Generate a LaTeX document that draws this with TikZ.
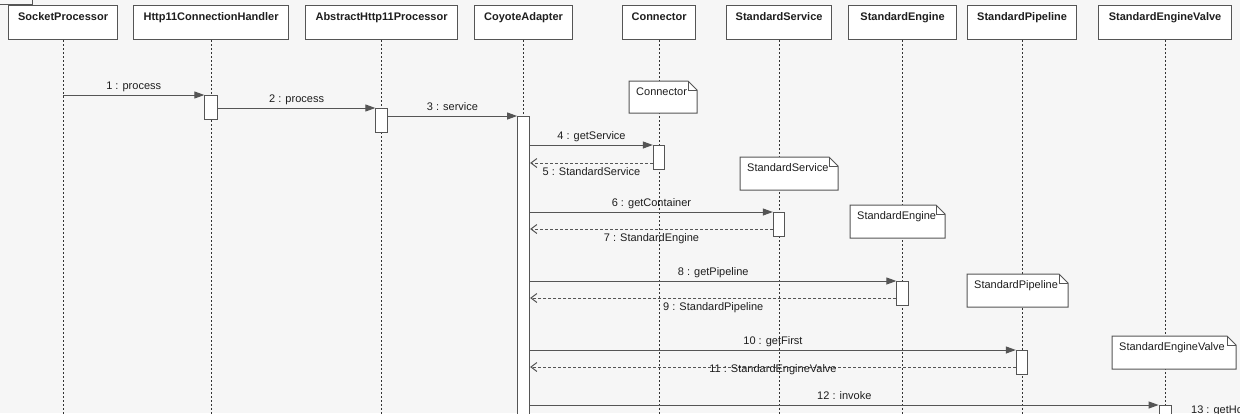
\documentclass[tikz,border=0pt]{standalone}
\usepackage{fontspec}
\setmainfont{Liberation Sans}
\usetikzlibrary{arrows.meta,calc}
\definecolor{bgc}{HTML}{F6F6F6}
\definecolor{ln}{HTML}{555555}
\definecolor{tx}{HTML}{1E1E1E}
\pgfdeclarelayer{back}
\pgfsetlayers{back,main}
\newcommand{\umlnote}[6]{%
  \begin{pgfonlayer}{back}
    \fill[white] (#1,#2) -- (#3-9,#2) -- (#3,#2+9) -- (#3,#4) -- (#1,#4) -- cycle;
  \end{pgfonlayer}
  \draw[noteln] (#1,#2) -- (#3-9,#2) -- (#3,#2+9) -- (#3,#4) -- (#1,#4) -- cycle;
  \draw[noteln] (#3-9,#2) -- (#3-9,#2+9) -- (#3,#2+9);
  \node[notetxt] (#5) at (#1+7,#2+11) {#6};
}
\begin{document}
\begin{tikzpicture}[x=1pt,y=-1pt,
  hdr/.style={draw=ln, line width=1.2pt, fill=white, minimum height=34pt,
    inner ysep=3pt, inner xsep=0pt, text height=12pt, text depth=16pt,
    font=\fontsize{11}{13}\selectfont\bfseries, text=tx, anchor=north west},
  bar/.style={draw=ln, line width=1pt, fill=white, minimum width=11.5pt,
    minimum height=24pt, inner sep=0pt, anchor=north},
  msg/.style={draw=ln, line width=1pt, -{Triangle[length=10pt,width=7pt]}},
  ret/.style={draw=ln, line width=1pt, dash pattern=on 3pt off 2pt,
    -{Straight Barb[length=6pt,width=9pt]}},
  life/.style={draw=black!80, line width=1pt, dash pattern=on 2pt off 2pt},
  lbl/.style={font=\fontsize{11}{13}\selectfont, text=tx, inner sep=0pt,
    text height=8pt, text depth=2pt},
  noteln/.style={draw=ln, line width=1pt},
  notetxt/.style={font=\fontsize{11}{13}\selectfont, text=tx, inner sep=0pt,
    text height=8pt, text depth=2pt, anchor=west}
]
\useasboundingbox (0,0) rectangle (1240,413);
\clip (0,0) rectangle (1240,413);
\begin{pgfonlayer}{back}
  \fill[bgc] (0,0) rectangle (1240,413);
\end{pgfonlayer}

% partial box at the top-left corner
\draw[ln, line width=1pt] (-2,4) -- (32,4) -- (32,-2);

% lifeline heads
\node[hdr, minimum width=109pt] (sp) at (8,5) {SocketProcessor};
\node[hdr, minimum width=155pt] (hc) at (133,5) {Http11ConnectionHandler};
\node[hdr, minimum width=152pt] (ap) at (305,5) {AbstractHttp11Processor};
\node[hdr, minimum width=98pt] (ca) at (474,5) {CoyoteAdapter};
\node[hdr, minimum width=73pt] (cn) at (622,5) {Connector};
\node[hdr, minimum width=105pt] (ss) at (726,5) {StandardService};
\node[hdr, minimum width=108pt] (se) at (848,5) {StandardEngine};
\node[hdr, minimum width=109pt] (sl) at (967,5) {StandardPipeline};
\node[hdr, minimum width=133pt] (sv) at (1098,5) {StandardEngineValve};

\coordinate (bot) at (0,420);
\begin{pgfonlayer}{back}
  \foreach \h in {sp,hc,ap,ca,cn,ss,se,sl,sv}
    \draw[life] (\h.south) -- (\h.south |- bot);
\end{pgfonlayer}

% notes
\umlnote{629}{81}{697}{113}{ncn}{Connector}
\umlnote{740}{157}{838}{190}{nss}{StandardService}
\umlnote{850}{205}{945}{238}{nse}{StandardEngine}
\umlnote{967}{274}{1068}{307}{nsl}{StandardPipeline}
\umlnote{1112}{336}{1236}{369}{nsv}{StandardEngineValve}

% activation bars
\node[bar, minimum width=12.5pt] (b1) at (hc.south |- 0,95) {};
\node[bar] (b2) at (ap.south |- 0,108) {};
\node[bar, minimum width=12pt, minimum height=320pt] (bca) at (ca.south |- 0,116) {};
\node[bar] (b3) at (cn.south |- 0,145) {};
\node[bar] (b4) at (ss.south |- 0,212) {};
\node[bar] (b5) at (se.south |- 0,281) {};
\node[bar] (b6) at (sl.south |- 0,350) {};
\node[bar, minimum width=12pt] (b7) at (sv.south |- 0,405) {};

% calls
\draw[msg] (sp.south |- b1.north) -- (b1.north west)
  node[lbl, midway, yshift=9pt] (l1) {1 : process};
\draw[msg] (b1.east |- b2.north) -- (b2.north west)
  node[lbl, midway, yshift=9pt] (l2) {2 : process};
\draw[msg] (b2.east |- bca.north) -- (bca.north west)
  node[lbl, midway, yshift=9pt] (l3) {3 : service};
\draw[msg] (bca.east |- b3.north) -- (b3.north west)
  node[lbl, midway, yshift=9pt] (l4) {4 : getService};
\draw[msg] (bca.east |- b4.north) -- (b4.north west)
  node[lbl, midway, yshift=9pt] (l6) {6 : getContainer};
\draw[msg] (bca.east |- b5.north) -- (b5.north west)
  node[lbl, midway, yshift=9pt] (l8) {8 : getPipeline};
\draw[msg] (bca.east |- b6.north) -- (b6.north west)
  node[lbl, midway, yshift=9pt] (l10) {10 : getFirst};
\draw[msg] (bca.east |- b7.north) -- (b7.north west)
  node[lbl, midway, yshift=9pt] (l12) {12 : invoke};

% returns
\coordinate (r5) at ($(b3.north west)+(0,18)$);
\coordinate (r7) at ($(b4.north west)+(0,17)$);
\coordinate (r9) at ($(b5.north west)+(0,17)$);
\coordinate (r11) at ($(b6.north west)+(0,17)$);
\draw[ret] (r5) -- (bca.east |- r5)
  node[lbl, midway, yshift=-9pt] (l5) {5 : StandardService};
\draw[ret] (r7) -- (bca.east |- r7)
  node[lbl, midway, yshift=-9pt] (l7) {7 : StandardEngine};
\draw[ret] (r9) -- (bca.east |- r9)
  node[lbl, midway, yshift=-9pt] (l9) {9 : StandardPipeline};
\draw[ret] (r11) -- (bca.east |- r11)
  node[lbl, midway, yshift=-2pt] (l11) {11 : StandardEngineValve};

\node[lbl, anchor=west] (l13) at (1191,410) {13 : getHost};
\end{tikzpicture}
\end{document}
